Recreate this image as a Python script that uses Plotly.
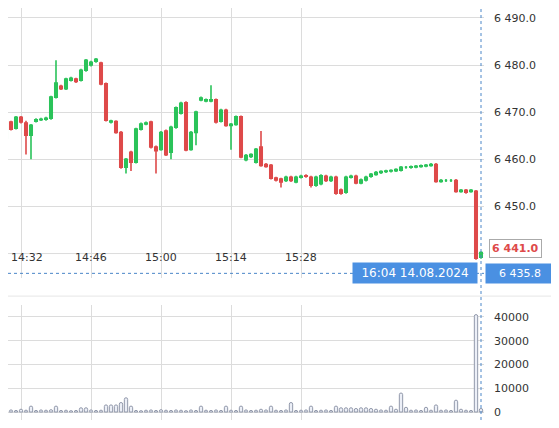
import plotly.graph_objects as go
import pandas as pd

start = pd.Timestamp("2024-08-14 14:28")
opens = [6461.9,6464.5,6467.9,6466.6,6468.9,6467.7,6465.1,6468.1,6468.4,6468.5,6468.7,6473.2,6475.5,6475.0,6476.8,6477.0,6476.8,6478.9,6480.0,6480.8,
         6480.4,6476.0,6467.9,6468.0,6465.7,6458.3,6461.5,6459.4,6466.4,6467.5,6467.9,6462.6,6462.1,6466.0,6461.5,6466.8,6469.8,6472.0,6462.1,6465.7,
         6472.6,6472.4,6472.4,6472.6,6468.1,6470.4,6467.2,6467.4,6469.0,6459.9,6460.6,6459.4,6462.6,6458.9,
         6458.7,6456.0,6455.8,6455.5,6456.2,6455.2,6456.2,6456.5,6456.2,6454.5,6454.8,6456.4,6455.5,6456.2,6453.5,6453.0,6456.2,6456.4,6455.0,6455.6,
         6456.4,6456.8,6457.2,6457.4,6457.5,6457.6,6457.7,6458.3,6458.3,6458.4,6458.5,6458.6,6458.7,6458.9,6455.3,6455.5,6455.5,6455.5,6453.2,6453.4,6453.2,6453.2,6439.2]
closes = [6462.6,6468.3,6466.4,6468.9,6467.9,6465.1,6467.2,6468.4,6468.5,6468.7,6473.2,6476.2,6475.0,6477.0,6477.2,6476.5,6478.9,6481.0,6480.6,6481.2,
          6476.0,6468.3,6468.1,6465.7,6458.3,6460.0,6459.4,6466.4,6467.5,6467.7,6462.6,6461.8,6465.7,6461.0,6466.8,6470.9,6471.9,6462.0,6465.7,6470.0,
          6473.0,6472.6,6472.6,6467.9,6470.4,6467.2,6467.4,6469.0,6460.5,6460.8,6461.0,6462.1,6458.7,6458.5,
          6456.0,6455.6,6455.2,6456.2,6455.5,6456.2,6456.4,6456.4,6454.5,6456.2,6456.5,6455.5,6456.2,6452.8,6452.8,6456.2,6456.4,6455.0,6455.6,6456.2,
          6456.8,6457.2,6457.4,6457.5,6457.6,6457.8,6458.3,6458.3,6458.4,6458.5,6458.6,6458.7,6458.9,6455.3,6455.5,6455.5,6455.5,6453.2,6453.4,6453.0,6453.4,6439.0,6440.2]
highs_extra = {11: 6481.0, 42: 6475.7, 52: 6466.0, 5: 6468.2}
lows_extra = {5: 6461.0, 6: 6460.0, 26: 6457.5, 31: 6457.0, 34: 6460.0, 46: 6462.0, 25: 6457.0, 39: 6463.0, 56: 6454.0, 62: 6454.0, 68: 6452.5}
volumes = [800,600,900,700,1200,800,2500,700,900,800,1000,2500,700,800,600,700,1800,1800,900,700,
           800,3000,3000,3000,4000,6000,2500,700,600,800,900,700,1000,800,700,900,800,600,900,700,
           2500,800,700,900,700,2500,800,700,2500,900,700,800,1200,900,2500,800,700,900,4000,700,
           800,900,2500,700,800,900,700,2500,1800,1800,1800,1500,1800,1800,1500,1200,900,800,2500,1200,
           8000,2000,800,900,700,2000,800,3000,800,900,700,5000,1200,800,700,41000,1500]

n = len(opens)
times = [start + pd.Timedelta(minutes=i) for i in range(n)]
highs = [max(o, c) + 0.3 for o, c in zip(opens, closes)]
lows = [min(o, c) - 0.3 for o, c in zip(opens, closes)]
for k, v in highs_extra.items(): highs[k] = v
for k, v in lows_extra.items(): lows[k] = v

tick_times = ["14:32", "14:46", "15:00", "15:14", "15:28"]
price_ticks = [6450, 6460, 6470, 6480, 6490]
vol_ticks = [0, 10000, 20000, 30000, 40000]

green, red = "#2bc35a", "#de4a4a"
grid = "#dcdcdc"
fig = go.Figure()
fig.add_trace(go.Candlestick(x=times, open=opens, high=highs, low=lows, close=closes,
    increasing=dict(line=dict(color=green, width=1.6), fillcolor=green),
    decreasing=dict(line=dict(color=red, width=1.6), fillcolor=red),
    whiskerwidth=0, xaxis="x", yaxis="y", showlegend=False, hoverinfo="skip"))
fig.add_trace(go.Bar(x=times, y=volumes, xaxis="x2", yaxis="y2", width=40000,
    marker=dict(color="#eceff7", line=dict(color="#9299ab", width=1), cornerradius="50%"),
    showlegend=False, hoverinfo="skip"))

xr = [start + pd.Timedelta(seconds=84), start + pd.Timedelta(seconds=96.6*60)]
tv = [pd.Timestamp("2024-08-14 " + t) for t in tick_times]
fig.update_layout(
    width=551, height=420, margin=dict(l=0, r=75, t=0, b=0, autoexpand=False),
    paper_bgcolor="white", plot_bgcolor="white", separators=". ",
    font=dict(family="DejaVu Sans", size=11, color="#333"),
    xaxis=dict(range=xr, domain=[0, 1], anchor="y", tickvals=tv, showticklabels=False,
               showgrid=True, gridcolor=grid, rangeslider=dict(visible=False), ticks="",
               showline=False, zeroline=False),
    yaxis=dict(domain=[0.357, 1], range=[6434.8, 6492.1], side="right", tickvals=price_ticks,
               tickformat=",.1f", showgrid=True, gridcolor=grid, zeroline=False, ticks="",
               ticklabelstandoff=9, tickfont=dict(size=11)),
    xaxis2=dict(range=xr, domain=[0, 1], anchor="y2", tickvals=tv, showticklabels=False,
                showgrid=True, gridcolor=grid, zeroline=False),
    yaxis2=dict(domain=[0.019, 0.293], range=[-3370, 45050], side="right", tickvals=vol_ticks,
                tickformat="d", showgrid=True, gridcolor=grid, zeroline=False, ticks="",
                ticklabelstandoff=9, tickfont=dict(size=11)),
)
for i, (t, lab) in enumerate(zip(tv, tick_times)):
    fig.add_annotation(xref="x", yref="paper", x=t, y=0.405, text=lab, showarrow=False,
                       xanchor="left" if i == 0 else "center", xshift=-12 if i == 0 else 0,
                       yanchor="middle", font=dict(size=11, color="#333"))
cross_t = times[-1]
fig.add_shape(type="line", xref="paper", yref="y", x0=0, x1=1, y0=6440, y1=6440,
              line=dict(color=grid, width=1), layer="below")
fig.add_shape(type="line", xref="x", yref="paper", x0=cross_t, x1=cross_t, y0=0.019, y1=1,
              line=dict(color="#4a86c8", width=1, dash="dot"))
fig.add_shape(type="line", xref="paper", yref="y", x0=0, x1=1, y0=6435.8, y1=6435.8,
              line=dict(color="#4a86c8", width=1, dash="dot"))
fig.add_shape(type="line", xref="paper", yref="paper", x0=0, x1=1.16, y0=0.314, y1=0.314,
              line=dict(color="#e6e6e6", width=1))
fig.add_annotation(xref="x", yref="y", x=cross_t, y=6435.8, xanchor="right", yanchor="middle",
                   text="16:04 14.08.2024", showarrow=False, bgcolor="#4a90e2",
                   font=dict(color="white", size=12), borderpad=3, width=118, xshift=-3)
fig.add_annotation(xref="paper", yref="y", x=1.0, y=6435.8, xanchor="left", yanchor="middle",
                   text="6 435.8", showarrow=False, bgcolor="#4a90e2",
                   font=dict(color="white", size=11), borderpad=3, width=62, xshift=1)
fig.add_annotation(xref="paper", yref="y", x=1.0, y=6441.0, xanchor="left", yanchor="middle",
                   text="<b>6 441.0</b>", showarrow=False, bgcolor="white", bordercolor="#aaaaaa",
                   borderwidth=1, font=dict(color=red, size=11), borderpad=2, xshift=5)
fig.write_html("out.html")
